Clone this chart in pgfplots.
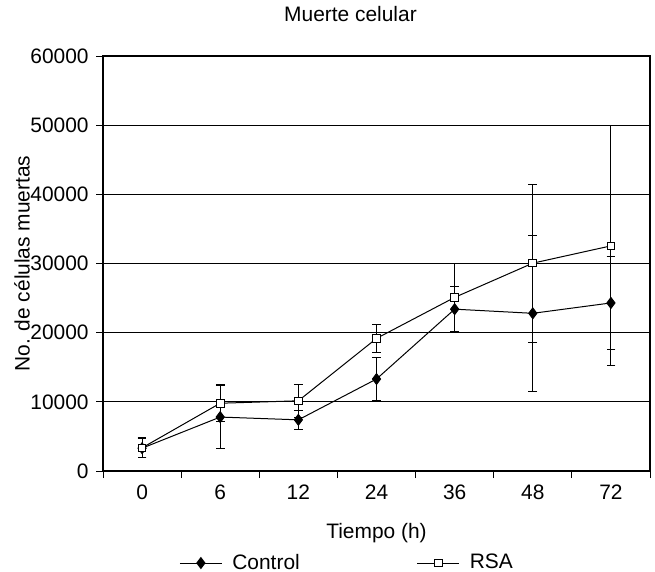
\documentclass[border=0pt]{standalone}
\usepackage{fontspec}
\setmainfont{Liberation Sans}
\usepackage{pgfplots}
\usepackage{pgfplotstable}
\pgfplotsset{compat=1.18}
\pgfplotstableread{
x y e
0 3300 1400
1 7800 4500
2 7400 1350
3 13300 3150
4 23400 3300
5 22800 11300
6 24300 6750
}\control
\pgfplotstableread{
x y e
0 3350 1450
1 9800 2700
2 10150 2400
3 19170 2070
4 25100 4900
5 30050 11400
6 32550 17350
}\rsa
\begin{document}
\fontsize{10.5}{12.6}\selectfont
\begin{tikzpicture}
\begin{axis}[name=ax, scale only axis, width=273.5bp, height=207.5bp,
  xmin=-0.5, xmax=6.5, ymin=0, ymax=60000,
  xtick={-0.5,0.5,...,6.5}, x tick label as interval,
  xticklabels={0,6,12,24,36,48,72},
  ytick={0,10000,...,60000},
  scaled y ticks=false,
  /pgf/number format/1000 sep={},
  /pgf/number format/assume math mode=true,
  ymajorgrids, major grid style={black, line width=0.5bp},
  axis line style={black, line width=0.6bp},
  tick style={black, line width=0.5bp},
  tick align=outside, xtick pos=bottom, ytick pos=left,
  major tick length=3.5bp,
  ticklabel style={font=\fontsize{10.5}{12.6}\selectfont},
  xlabel={Tiempo (h)},
  xlabel style={at={(axis description cs:0.5,0)}, anchor=center, yshift=-31bp},
  ylabel={No. de células muertas},
  ylabel style={at={(axis description cs:0,0.5)}, anchor=center, yshift=40.5bp},
  title={Muerte celular},
  title style={at={(axis description cs:0.5,1)}, anchor=center, yshift=15bp, xshift=-13bp},
  legend columns=2,
  legend style={draw=none, fill=none, at={(axis description cs:0,0)}, anchor=west,
    xshift=35bp, yshift=-46bp,
    /tikz/every odd column/.append style={column sep=3bp},
    /tikz/every even column/.append style={column sep=56.5bp}},
  legend image code/.code={\draw[mark repeat=2,mark phase=2,#1] plot coordinates {(0bp,0bp)(10.5bp,0bp)(21bp,0bp)};},
]
\addplot[black, line width=0.5bp, mark=diamond*, mark size=2.7bp,
  mark options={solid, fill=black},
  error bars/.cd, y dir=both, y explicit,
  error bar style={black, line width=0.5bp},
  error mark options={rotate=90, black, mark size=2.2bp, line width=0.5bp}]
  table[x=x, y=y, y error=e] {\control};
\addlegendentry{Control}
\addplot[black, line width=0.5bp, mark=square*, mark size=1.9bp,
  mark options={solid, fill=white},
  error bars/.cd, y dir=both, y explicit,
  error bar style={black, line width=0.5bp},
  error mark options={rotate=90, black, mark size=2.2bp, line width=0.5bp}]
  table[x=x, y=y, y error=e] {\rsa};
\addlegendentry{RSA}
\end{axis}
\pgfresetboundingbox
\path ([shift={(-51.5bp,-50bp)}]ax.south west) rectangle ([shift={(2.5bp,28bp)}]ax.north east);
\end{tikzpicture}
\end{document}
